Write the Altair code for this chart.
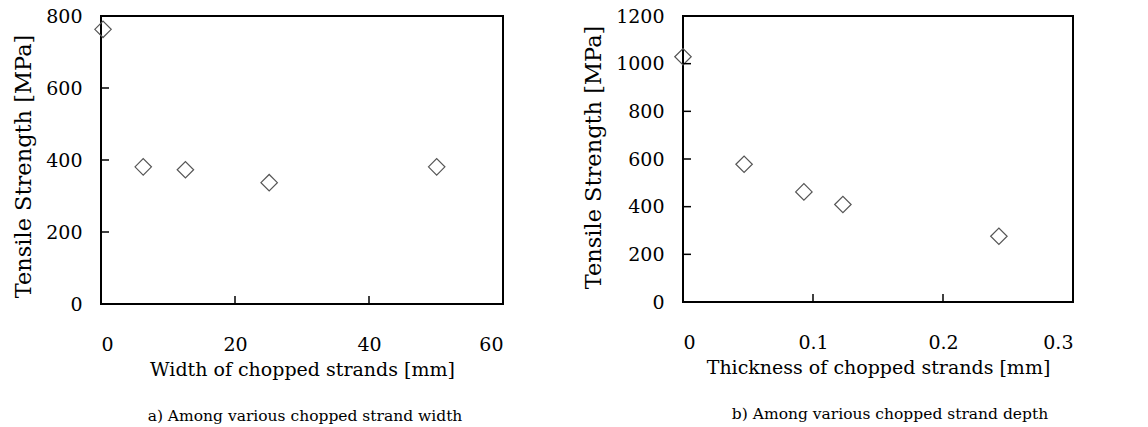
import altair as alt
import pandas as pd

# Panel a) width of chopped strands
width_mm = [0.3, 6.3, 12.6, 25.1, 50.1]
width_strength = [763, 381, 373, 337, 381]
a_xticks = [20, 40]
a_yticks = [200, 400, 600]

# Panel b) thickness of chopped strands
thick_mm = [0.0, 0.047, 0.093, 0.123, 0.243]
thick_strength = [1029, 578, 462, 409, 276]
b_xticks = [0.1, 0.2]
b_yticks = [200, 400, 600, 800, 1000]

FONT = "DejaVu Serif"
TICK = 8


def panel(xs, ys, xdom, ydom, xstep, ystep, xfmt, xt, yt, xtitle, ytitle, caption, w, h, cap_dx, ty):
    df = pd.DataFrame({"x": xs, "y": ys})
    xs_ = alt.Scale(domain=xdom, nice=False, zero=False)
    ys_ = alt.Scale(domain=ydom, nice=False, zero=False)
    xvals = [round(xdom[0] + i * xstep, 6) for i in range(int(round((xdom[1] - xdom[0]) / xstep)) + 1)]
    yvals = [ydom[0] + i * ystep for i in range(int(round((ydom[1] - ydom[0]) / ystep)) + 1)]
    xaxis = alt.Axis(values=xvals, format=xfmt, grid=False, ticks=False, tickSize=0, domain=False,
                     labelPadding=31, labelFont=FONT, labelFontSize=19, labelColor="black",
                     title=xtitle, titleFont=FONT, titleFontSize=19, titleFontWeight="normal",
                     titleColor="black", titlePadding=6)
    yaxis = alt.Axis(values=yvals, format="d", grid=False, ticks=False, tickSize=0, domain=False,
                     labelPadding=19, labelFont=FONT, labelFontSize=19, labelColor="black",
                     title=ytitle, titleFont=FONT, titleFontSize=22.5, titleFontWeight="normal",
                     titleColor="black", titlePadding=10, titleY=ty)
    pts = alt.Chart(df).mark_point(shape="diamond", filled=False, size=270,
                                   stroke="#555555", strokeWidth=1.2, opacity=1, clip=False).encode(
        x=alt.X("x:Q", scale=xs_, axis=xaxis),
        y=alt.Y("y:Q", scale=ys_, axis=yaxis),
    )
    ytk = alt.Chart(pd.DataFrame({"v": yt})).mark_rule(color="black", strokeWidth=1.5).encode(
        y=alt.Y("v:Q", scale=ys_, axis=yaxis),
        x=alt.value(0), x2=alt.value(TICK),
    )
    xtk = alt.Chart(pd.DataFrame({"v": xt})).mark_rule(color="black", strokeWidth=1.5).encode(
        x=alt.X("v:Q", scale=xs_, axis=xaxis),
        y=alt.value(h), y2=alt.value(h - TICK),
    )
    return alt.layer(pts, ytk, xtk).properties(
        width=w, height=h,
        title=alt.TitleParams(caption, orient="bottom", anchor="middle", frame="group",
                              font=FONT, fontSize=15.5, fontWeight="normal", color="black",
                              offset=30, dx=cap_dx),
    )


left = panel(width_mm, width_strength, [0, 60], [0, 800], 20, 200, "d", a_xticks, a_yticks,
             "Width of chopped strands [mm]", "Tensile Strength [MPa]",
             "a) Among various chopped strand width", 402, 288, 3, 150)
right = panel(thick_mm, thick_strength, [0, 0.3], [0, 1200], 0.1, 200, ".1~f", b_xticks, b_yticks,
              "Thickness of chopped strands [mm]", "Tensile Strength [MPa]",
              "b) Among various chopped strand depth", 390, 286, 12, 141)

chart = alt.hconcat(left, right, spacing=77).properties(
    padding={"left": 11, "top": 6, "right": 5, "bottom": 0},
    background="white",
).configure_view(stroke="black", strokeWidth=2).configure_axis(labelLimit=0)

chart.save("out.html", embed_options={"renderer": "svg", "actions": False})
